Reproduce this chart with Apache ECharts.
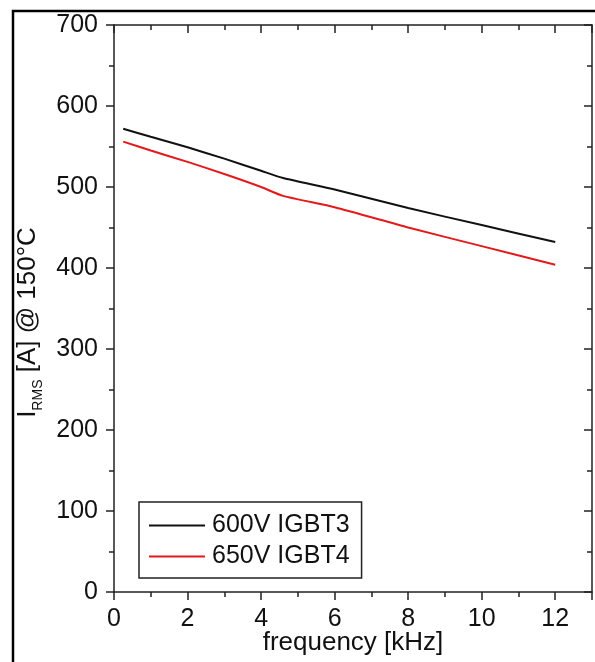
<!DOCTYPE html>
<html>
<head>
<meta charset="utf-8">
<script src="https://cdn.jsdelivr.net/npm/echarts@6/dist/echarts.min.js"></script>
<style>
html,body{margin:0;padding:0;background:#fff;}
#chart{width:595px;height:662px;}
</style>
</head>
<body>
<div id="chart"></div>
<script>
const seriesNames = ['600V IGBT3', '650V IGBT4'];
const freq = [0.25, 1, 2, 3, 4, 4.6, 6, 8, 10, 12];
const igbt3 = [572, 562, 549, 535, 520, 511, 497, 474, 453, 432];
const igbt4 = [556, 545, 531, 516, 500, 489, 475, 450, 427, 404];

const FONT = '"Liberation Sans", Arial, sans-serif';
const chart = echarts.init(document.getElementById('chart'));

const axisLineStyle = {color: '#222', width: 1.5};
const mainX = {
  type: 'value', min: 0, max: 13, interval: 2, position: 'bottom',
  axisLine: {show: true, onZero: false, lineStyle: axisLineStyle},
  axisTick: {show: true, inside: false, length: 8, lineStyle: axisLineStyle},
  minorTick: {show: true, splitNumber: 2, length: 5, lineStyle: axisLineStyle},
  splitLine: {show: false},
  axisLabel: {show: true, fontFamily: FONT, fontSize: 25, color: '#111', margin: 15,
    showMaxLabel: false},
  name: 'frequency [kHz]', nameLocation: 'middle', nameGap: 38, nameMoveOverlap: false,
  nameTextStyle: {fontFamily: FONT, fontSize: 26, color: '#111'}
};
const topX = {
  type: 'value', min: 0, max: 13, interval: 2, position: 'top',
  axisLine: {show: true, onZero: false, lineStyle: axisLineStyle},
  axisTick: {show: true, inside: true, length: 8, lineStyle: axisLineStyle},
  minorTick: {show: true, splitNumber: 2, length: 5, lineStyle: axisLineStyle},
  splitLine: {show: false},
  axisLabel: {show: false}
};
const mainY = {
  type: 'value', min: 0, max: 700, interval: 100, position: 'left',
  axisLine: {show: true, onZero: false, lineStyle: axisLineStyle},
  axisTick: {show: true, inside: false, length: 8, lineStyle: axisLineStyle},
  minorTick: {show: true, splitNumber: 2, length: 5, lineStyle: axisLineStyle},
  splitLine: {show: false},
  axisLabel: {show: true, fontFamily: FONT, fontSize: 25, color: '#111', margin: 16},
  name: '{a|I}{b|RMS}{a| [A] @ 150°C}', nameLocation: 'middle', nameGap: 73, nameRotate: 90,
  nameMoveOverlap: false,
  nameTextStyle: {
    fontFamily: FONT, fontSize: 26, color: '#111', padding: [0, 28, 0, 0],
    rich: {
      a: {fontFamily: FONT, fontSize: 26, color: '#111'},
      b: {fontFamily: FONT, fontSize: 14, color: '#111', verticalAlign: 'bottom', padding: [0, 0, -4, 0]}
    }
  }
};
const rightY = {
  type: 'value', min: 0, max: 700, interval: 100, position: 'right',
  axisLine: {show: true, onZero: false, lineStyle: axisLineStyle},
  axisTick: {show: true, inside: true, length: 8, lineStyle: axisLineStyle},
  minorTick: {show: true, splitNumber: 2, length: 5, lineStyle: axisLineStyle},
  splitLine: {show: false},
  axisLabel: {show: false}
};

chart.setOption({
  animation: false,
  backgroundColor: '#fff',
  grid: {left: 114, right: 3, top: 25, bottom: 70, containLabel: false, outerBoundsMode: 'none'},
  xAxis: [mainX, topX],
  yAxis: [mainY, rightY],
  legend: {
    orient: 'vertical', left: 139, top: 502,
    padding: [11, 12, 9, 10],
    itemGap: 6, itemWidth: 56, itemHeight: 2,
    icon: 'rect',
    borderColor: '#222', borderWidth: 1.5,
    textStyle: {fontFamily: FONT, fontSize: 25, color: '#111', lineHeight: 24, padding: [0, 0, 0, 2]},
    data: seriesNames
  },
  graphic: [{
    type: 'rect', silent: true,
    shape: {x: 13, y: 11, width: 620, height: 700},
    style: {fill: 'none', stroke: '#000', lineWidth: 2.5}
  }],
  series: [
    {name: seriesNames[0], type: 'line', xAxisIndex: 0, yAxisIndex: 0, symbol: 'none', smooth: 0.2,
      lineStyle: {color: '#111', width: 2}, itemStyle: {color: '#111'},
      data: freq.map((f, i) => [f, igbt3[i]])},
    {name: seriesNames[1], type: 'line', xAxisIndex: 0, yAxisIndex: 0, symbol: 'none', smooth: 0.2,
      lineStyle: {color: '#e31a1c', width: 2}, itemStyle: {color: '#e31a1c'},
      data: freq.map((f, i) => [f, igbt4[i]])}
  ]
});
</script>
</body>
</html>
